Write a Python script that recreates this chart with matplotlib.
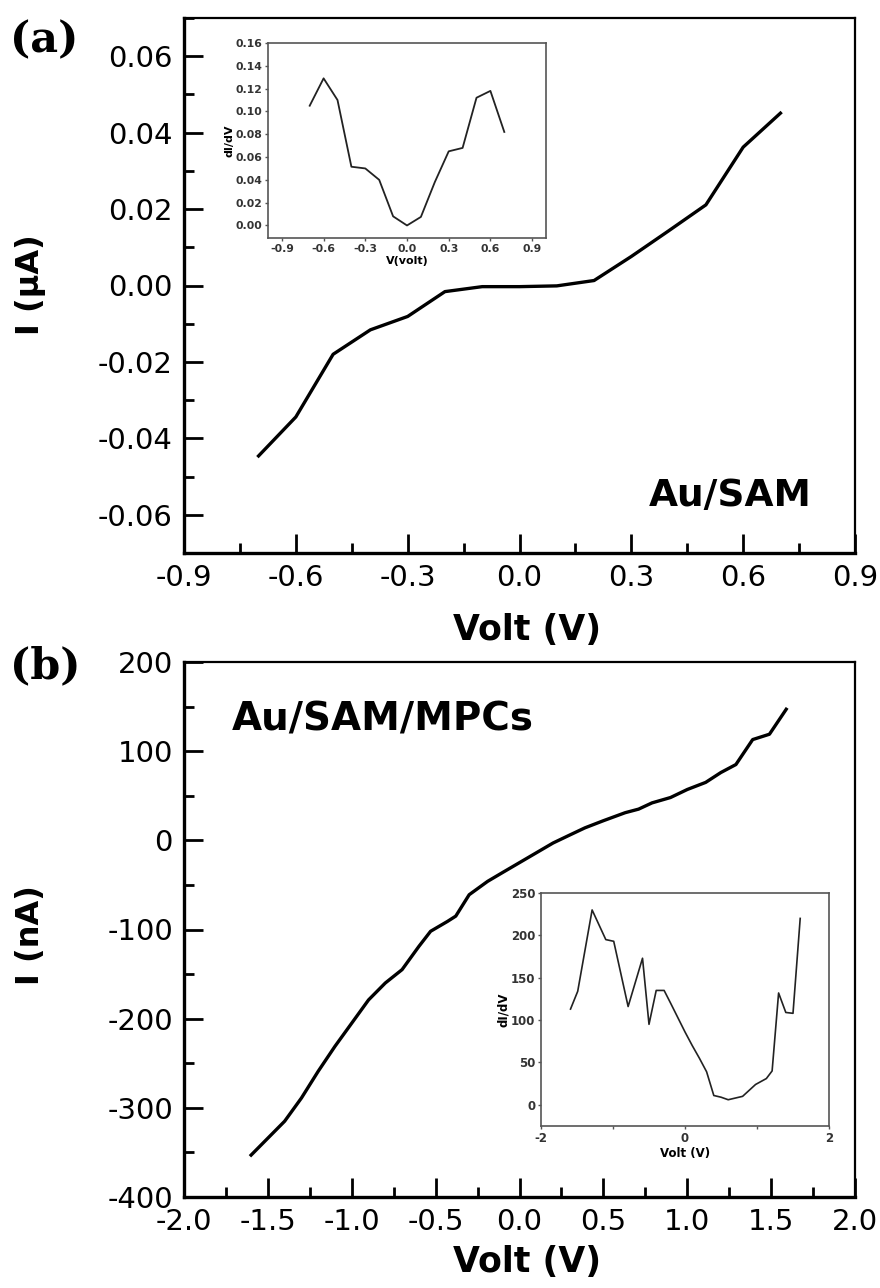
import matplotlib
matplotlib.use("Agg")
import matplotlib.pyplot as plt
from matplotlib.ticker import MultipleLocator, FormatStrFormatter

plt.rcParams['font.family'] = ['DejaVu Sans']
plt.rcParams['axes.unicode_minus'] = False

# ---- Panel (a): Au/SAM I-V curve ----
volt_a = [-0.7, -0.6, -0.5, -0.4, -0.3, -0.2, -0.1, 0.0, 0.1, 0.2, 0.3, 0.4, 0.5, 0.6, 0.7]
curr_a = [-0.0446, -0.0344, -0.0180, -0.0116, -0.0081, -0.0016, -0.0003, -0.0003,
          -0.0001, 0.0013, 0.0076, 0.0143, 0.0211, 0.0362, 0.0451]

# inset (a): differential conductance
volt_a_ins = [-0.7, -0.6, -0.5, -0.4, -0.3, -0.2, -0.1, 0.0, 0.1, 0.2, 0.3, 0.4, 0.5, 0.6, 0.7]
didv_a_ins = [0.105, 0.129, 0.110, 0.0515, 0.050, 0.040, 0.008, 0.000, 0.0075, 0.038,
              0.065, 0.068, 0.112, 0.118, 0.082]

# ---- Panel (b): Au/SAM/MPCs I-V curve ----
volt_b = [-1.60, -1.50, -1.40, -1.30, -1.20, -1.10, -1.00, -0.90, -0.80, -0.70, -0.60,
          -0.53, -0.43, -0.38, -0.30, -0.19, -0.10, 0.00, 0.10, 0.20, 0.30, 0.39, 0.50,
          0.63, 0.71, 0.79, 0.90, 1.00, 1.11, 1.20, 1.29, 1.39, 1.49, 1.59]
curr_b = [-353, -334, -315, -289, -259, -231, -205, -179, -160, -145, -119,
          -102, -91, -85, -61, -46, -36, -25, -14, -3, 6, 14, 22,
          31, 35, 42, 48, 57, 65, 76, 85, 113, 119, 147]

# inset (b): differential conductance
volt_b_ins = [-1.59, -1.49, -1.29, -1.10, -0.99, -0.79, -0.59, -0.50, -0.40, -0.29,
              -0.20, -0.10, 0.00, 0.10, 0.20, 0.30, 0.40, 0.50, 0.60, 0.80, 0.98,
              1.13, 1.21, 1.30, 1.40, 1.50, 1.60]
didv_b_ins = [113, 134, 230, 195, 193, 116, 173, 95, 135, 135,
              120, 103, 86, 70, 55, 39, 11, 9, 6, 10, 24,
              31, 40, 132, 109, 108, 220]

W, H = 880, 1288
fig = plt.figure(figsize=(W / 100, H / 100), dpi=100)


def ax_rect(left, top, right, bottom):
    return [left / W, 1 - bottom / H, (right - left) / W, (bottom - top) / H]


def style_main(ax):
    for side in ('top', 'right'):
        ax.spines[side].set_linewidth(1.6)
    for side in ('left', 'bottom'):
        ax.spines[side].set_linewidth(2.4)
    ax.tick_params(which='both', direction='in', top=False, right=False, width=2)
    ax.tick_params(which='major', length=14, labelsize=21, pad=8)
    ax.tick_params(which='minor', length=7)


def style_inset(ax, size):
    for s in ax.spines.values():
        s.set_linewidth(1.2)
        s.set_color('#555555')
    ax.tick_params(which='both', direction='out', top=False, right=False,
                   width=1, color='#555555', labelsize=size, pad=1.5)
    ax.tick_params(which='major', length=2.5)
    ax.tick_params(which='minor', length=2)
    for lab in ax.get_xticklabels() + ax.get_yticklabels():
        lab.set_fontweight('bold')
        lab.set_color('#333333')


# ---------------- panel (a) ----------------
ax_a = fig.add_axes(ax_rect(184, 18, 855, 553))
ax_a.plot(volt_a, curr_a, color='black', lw=2.4, solid_joinstyle='round')
ax_a.set_xlim(-0.9, 0.9)
ax_a.set_ylim(-0.07, 0.07)
ax_a.xaxis.set_major_locator(MultipleLocator(0.3))
ax_a.xaxis.set_minor_locator(MultipleLocator(0.15))
ax_a.yaxis.set_major_locator(MultipleLocator(0.02))
ax_a.yaxis.set_minor_locator(MultipleLocator(0.01))
ax_a.xaxis.set_major_formatter(FormatStrFormatter('%.1f'))
ax_a.yaxis.set_major_formatter(FormatStrFormatter('%.2f'))
style_main(ax_a)
ax_a.text(0.935, 0.107, 'Au/SAM', transform=ax_a.transAxes, ha='right', va='center',
          fontsize=27, fontweight='bold')

ins_a = fig.add_axes(ax_rect(268, 43, 546, 238))
ins_a.plot(volt_a_ins, didv_a_ins, color='#222222', lw=1.3)
ins_a.set_xlim(-1.0, 1.0)
ins_a.set_ylim(-0.011, 0.16)
ins_a.yaxis.set_major_locator(MultipleLocator(0.02))
ins_a.set_xticks([-0.9, -0.6, -0.3, 0.0, 0.3, 0.6, 0.9])
ins_a.xaxis.set_major_formatter(FormatStrFormatter('%.1f'))
ins_a.yaxis.set_major_formatter(FormatStrFormatter('%.2f'))
style_inset(ins_a, 7.8)
ins_a.set_xlabel('V(volt)', fontsize=8, fontweight='bold', labelpad=2)
ins_a.set_ylabel('dI/dV', fontsize=8, fontweight='bold', labelpad=1)

# ---------------- panel (b) ----------------
ax_b = fig.add_axes(ax_rect(184, 662, 855, 1197))
ax_b.plot(volt_b, curr_b, color='black', lw=2.4, solid_joinstyle='round')
ax_b.set_xlim(-2.0, 2.0)
ax_b.set_ylim(-400, 200)
ax_b.xaxis.set_major_locator(MultipleLocator(0.5))
ax_b.xaxis.set_minor_locator(MultipleLocator(0.25))
ax_b.yaxis.set_major_locator(MultipleLocator(100))
ax_b.yaxis.set_minor_locator(MultipleLocator(50))
ax_b.xaxis.set_major_formatter(FormatStrFormatter('%.1f'))
ax_b.yaxis.set_major_formatter(FormatStrFormatter('%d'))
style_main(ax_b)
ax_b.text(0.072, 0.892, 'Au/SAM/MPCs', transform=ax_b.transAxes, ha='left', va='center',
          fontsize=28, fontweight='bold')

ins_b = fig.add_axes(ax_rect(541, 893, 829, 1126))
ins_b.plot(volt_b_ins, didv_b_ins, color='#222222', lw=1.2)
ins_b.set_xlim(-2, 2)
ins_b.set_ylim(-25, 250)
ins_b.xaxis.set_major_locator(MultipleLocator(2))
ins_b.xaxis.set_minor_locator(MultipleLocator(1))
ins_b.yaxis.set_major_locator(MultipleLocator(50))
ins_b.xaxis.set_major_formatter(FormatStrFormatter('%d'))
ins_b.yaxis.set_major_formatter(FormatStrFormatter('%d'))
style_inset(ins_b, 8.5)
ins_b.set_xlabel('Volt (V)', fontsize=8.5, fontweight='bold', labelpad=2)
ins_b.set_ylabel('dI/dV', fontsize=8.5, fontweight='bold', labelpad=1)

# ---------------- figure-level labels ----------------
fig.text(10 / W, 1 - 40 / H, '(a)', fontsize=31, fontweight='bold',
         family='DejaVu Serif', ha='left', va='center')
fig.text(10 / W, 1 - 666 / H, '(b)', fontsize=31, fontweight='bold',
         family='DejaVu Serif', ha='left', va='center')

fig.text(527 / W, 1 - 630 / H, 'Volt (V)', fontsize=25, fontweight='bold',
         ha='center', va='center')
fig.text(527 / W, 1 - 1262 / H, 'Volt (V)', fontsize=25, fontweight='bold',
         ha='center', va='center')
fig.text(30 / W, 1 - 285 / H, 'I (μA)', fontsize=23, fontweight='bold',
         rotation=90, ha='center', va='center')
fig.text(30 / W, 1 - 935 / H, 'I (nA)', fontsize=23, fontweight='bold',
         rotation=90, ha='center', va='center')

fig.savefig('out.png', dpi=100, facecolor='white')
